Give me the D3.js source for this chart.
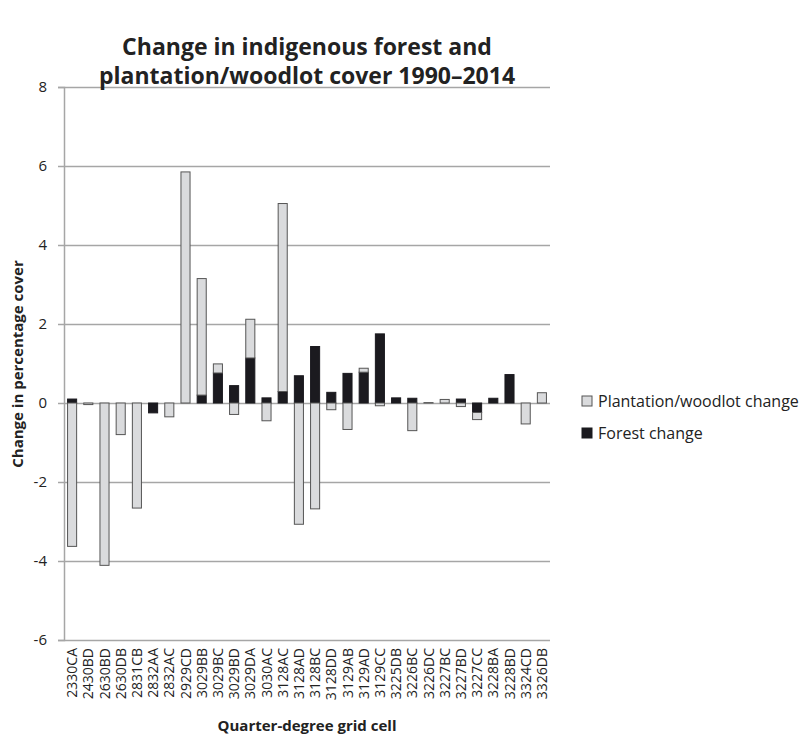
<!DOCTYPE html>
<html>
<head>
<meta charset="utf-8">
<script src="https://cdn.jsdelivr.net/npm/d3@7"></script>
<style>
  body { margin: 0; background: #fff; }
  svg { font-family: "Open Sans", "Noto Sans", sans-serif; }
</style>
</head>
<body>
<svg></svg>
<script>
// grid cells along the x axis
const cells = ["2330CA","2430BD","2630BD","2630DB","2831CB","2832AA","2832AC","2929CD",
  "3029BB","3029BC","3029BD","3029DA","3030AC","3128AC","3128AD","3128BC","3128DD",
  "3129AB","3129AD","3129CC","3225DB","3226BC","3226DC","3227BC","3227BD","3227CC",
  "3228BA","3228BD","3324CD","3326DB"]

// change in percentage cover
const forestChange = [0.1, 0, 0, 0, 0, -0.25, 0, 0,
  0.2, 0.76, 0.44, 1.14, 0.13, 0.29, 0.69, 1.43, 0.27,
  0.75, 0.78, 1.75, 0.13, 0.12, 0, 0, 0.1, -0.24,
  0.12, 0.72, 0, 0]
const plantationChange = [-3.63, -0.04, -4.11, -0.8, -2.66, 0, -0.35, 5.85,
  2.95, 0.23, -0.29, 0.98, -0.45, 4.76, -3.07, -2.68, -0.17,
  -0.67, 0.1, -0.07, 0, -0.7, 0.01, 0.09, -0.09, -0.18,
  0, 0, -0.53, 0.26]

const yTicks = [-6, -4, -2, 0, 2, 4, 6, 8]

///////////////////////////////////////////
//////////////// Constants ////////////////
///////////////////////////////////////////
const width = 805
const height = 740
const margin = {top: 87, right: 255, bottom: 100, left: 64}

const gridColour = "#a6a6a6"
const plantationColour = "#dadbdd"
const plantationStroke = "#555"
const forestColour = "#1b1a1f"
const textColour = "#222"

const rows = cells.map((c, i) => ({cell: c, forest: forestChange[i], plantation: plantationChange[i]}))

const series = d3.stack()
  .keys(["forest", "plantation"])
  .offset(d3.stackOffsetDiverging)(rows)

const svg = d3.select("svg")
  .attr("width", width)
  .attr("height", height)

const x = d3.scaleBand()
  .domain(cells)
  .range([margin.left, width - margin.right])
  .paddingInner(0.44)
  .paddingOuter(0.22)

const y = d3.scaleLinear()
  .domain([-6, 8])
  .range([height - margin.bottom, margin.top])

// gridlines + y axis
svg.append("g")
  .attr("transform", `translate(${margin.left},0)`)
  .call(d3.axisLeft(y).tickValues(yTicks).tickFormat(d => String(d)).tickSize(6).tickPadding(11))
  .call(g => g.select(".domain").attr("stroke", gridColour).attr("stroke-width", 1.5))
  .call(g => g.selectAll(".tick line").attr("stroke", gridColour).attr("stroke-width", 1.5))
  .call(g => g.selectAll(".tick").append("line")
    .attr("x2", width - margin.right - margin.left)
    .attr("stroke", gridColour)
    .attr("stroke-width", 1.5))
  .call(g => g.selectAll(".tick text")
    .attr("font-size", 15)
    .attr("fill", textColour)
    .attr("font-family", "Open Sans"))

// bars
const colours = {forest: forestColour, plantation: plantationColour}
svg.append("g")
  .selectAll("g")
  .data(series)
  .join("g")
    .attr("fill", d => colours[d.key])
    .attr("stroke", d => d.key === "plantation" ? plantationStroke : forestColour)
    .attr("stroke-width", 1)
  .selectAll("rect")
  .data(d => d.filter(p => p[1] !== p[0]))
  .join("rect")
    .attr("x", d => x(d.data.cell))
    .attr("width", x.bandwidth())
    .attr("y", d => y(Math.max(d[0], d[1])))
    .attr("height", d => Math.abs(y(d[0]) - y(d[1])))

// x tick labels, rotated
svg.append("g")
  .selectAll("text")
  .data(cells)
  .join("text")
    .attr("transform", d => `translate(${x(d) + x.bandwidth() / 2 + 5},${height - margin.bottom + 8}) rotate(-90)`)
    .attr("text-anchor", "end")
    .attr("font-size", 14)
    .attr("fill", textColour)
    .text(d => d)

// titles
const title = svg.append("text")
  .attr("text-anchor", "middle")
  .attr("font-weight", "bold")
  .attr("font-size", 23)
  .attr("fill", textColour)
title.append("tspan").attr("x", 307).attr("y", 55).text("Change in indigenous forest and")
title.append("tspan").attr("x", 307).attr("y", 84).text("plantation/woodlot cover 1990–2014")

svg.append("text")
  .attr("x", 307)
  .attr("y", 731)
  .attr("text-anchor", "middle")
  .attr("font-weight", "bold")
  .attr("font-size", 15)
  .attr("fill", textColour)
  .text("Quarter-degree grid cell")

svg.append("text")
  .attr("transform", `translate(23,364) rotate(-90)`)
  .attr("text-anchor", "middle")
  .attr("font-weight", "bold")
  .attr("font-size", 15)
  .attr("fill", textColour)
  .text("Change in percentage cover")

// legend
const legendItems = [
  {label: "Plantation/woodlot change", fill: plantationColour, stroke: plantationStroke},
  {label: "Forest change", fill: forestColour, stroke: forestColour}
]
const legend = svg.append("g")
  .selectAll("g")
  .data(legendItems)
  .join("g")
    .attr("transform", (d, i) => `translate(582,${401 + i * 32})`)
legend.append("rect")
  .attr("x", 0).attr("y", -5)
  .attr("width", 10).attr("height", 10)
  .attr("fill", d => d.fill)
  .attr("stroke", d => d.stroke)
legend.append("text")
  .attr("x", 16)
  .attr("dy", "0.35em")
  .attr("font-size", 16)
  .attr("fill", textColour)
  .text(d => d.label)
</script>
</body>
</html>
